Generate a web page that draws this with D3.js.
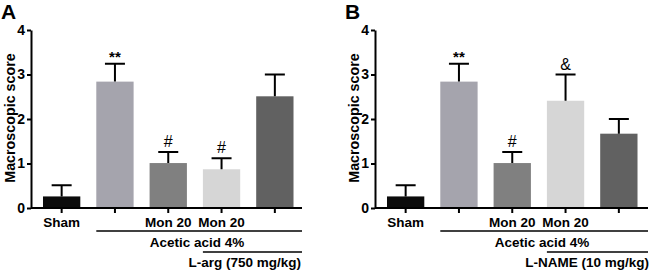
<!DOCTYPE html>
<html>
<head>
    <meta charset="utf-8" />
    <script src="https://d3js.org/d3.v7.min.js"></script>
    <style>
        body { margin: 0; background: #fff; }
        svg text { font-family: Arial, "Liberation Sans", sans-serif; font-weight: bold; }
    </style>
</head>
<body>
<svg id="svg"></svg>
<script>

// data
let groups = ["g1", "g2", "g3", "g4", "g5"];
let groupLabels = ["Sham", "", "Mon 20", "Mon 20", ""];
let barColors = ["#0b0b0b", "#a5a4ad", "#808080", "#d6d6d6", "#616161"];

let meanA = [0.26, 2.84, 1.01, 0.87, 2.51];
let errA = [0.51, 3.24, 1.26, 1.12, 3.0];
let markA = ["", "**", "#", "#", ""];

let meanB = [0.26, 2.84, 1.01, 2.41, 1.67];
let errB = [0.51, 3.24, 1.26, 3.0, 2.0];
let markB = ["", "**", "#", "&", ""];

let yTicks = [0, 1, 2, 3, 4];

let svg = d3.select("#svg").attr("width", 650).attr("height", 272);

function drawPanel(opt) {
    let g = svg.append("g").attr("transform", "translate(" + opt.x0 + ",0)");

    let x = d3.scaleBand().domain(groups)
        .range([31, 305.5]).paddingInner(0.3).paddingOuter(0.225);
    let y = d3.scaleLinear().domain([0, 4]).range([208, 30]);

    // panel letter
    g.append("text").attr("x", 1).attr("y", 19)
        .attr("font-size", 21).text(opt.letter);

    // y title
    g.append("text")
        .attr("transform", "translate(15,118) rotate(-90)")
        .attr("text-anchor", "middle")
        .attr("font-size", 14.3)
        .text("Macroscopic score");

    // bars
    g.selectAll(".bar").data(opt.mean).enter().append("rect")
        .attr("x", (d, i) => x(groups[i]))
        .attr("y", d => y(d))
        .attr("width", x.bandwidth())
        .attr("height", d => y(0) - y(d))
        .attr("fill", (d, i) => barColors[i]);

    // error bars (upper only)
    let cap = 10;
    g.selectAll(".err").data(opt.err).enter().append("path")
        .attr("d", (d, i) => {
            let cx = x(groups[i]) + x.bandwidth() / 2;
            return "M" + cx + "," + y(opt.mean[i]) + "V" + y(d) +
                "M" + (cx - cap) + "," + y(d) + "H" + (cx + cap);
        })
        .attr("stroke", "#000").attr("stroke-width", 2).attr("fill", "none");

    // significance marks
    g.selectAll(".mark").data(opt.marks).enter().append("text")
        .attr("x", (d, i) => x(groups[i]) + x.bandwidth() / 2)
        .attr("y", (d, i) => y(opt.err[i]) - (d === "**" ? 2 : 5))
        .attr("text-anchor", "middle")
        .attr("font-size", d => d === "**" ? 15 : 16)
        .style("font-weight", d => d === "**" ? "bold" : "normal")
        .text(d => d);

    // y axis
    let yAxis = g.append("g").attr("transform", "translate(31,0)")
        .call(d3.axisLeft(y).tickValues(yTicks).tickSize(4).tickSizeOuter(0).tickFormat(d3.format("d")));
    yAxis.selectAll("text").attr("font-size", 14).attr("fill", "#000").attr("x", -6);
    yAxis.selectAll("line").attr("stroke-width", 2);
    yAxis.select(".domain").attr("stroke-width", 2);

    // x axis
    let xAxis = g.append("g").attr("transform", "translate(0,208)")
        .call(d3.axisBottom(x).tickSize(5).tickSizeOuter(0).tickFormat(""));
    xAxis.select(".domain").attr("d", "M31,0H" + opt.xEnd).attr("stroke-width", 2);
    xAxis.selectAll("line").attr("stroke-width", 2);

    // group labels
    g.selectAll(".glab").data(groupLabels).enter().append("text")
        .attr("x", (d, i) => x(groups[i]) + x.bandwidth() / 2)
        .attr("y", 227)
        .attr("text-anchor", "middle")
        .attr("font-size", 13.5)
        .text(d => d);

    // treatment lines
    let x1 = x(groups[1]);
    g.append("line").attr("x1", x1).attr("x2", opt.xEnd)
        .attr("y1", 231).attr("y2", 231).attr("stroke", "#000").attr("stroke-width", 1.5);
    g.append("text").attr("x", opt.acidX).attr("y", 246.5)
        .attr("text-anchor", "middle").attr("font-size", 13.5).text("Acetic acid 4%");

    let x3 = x(groups[3]);
    g.append("line").attr("x1", x3).attr("x2", opt.xEnd)
        .attr("y1", 252).attr("y2", 252).attr("stroke", "#000").attr("stroke-width", 1.5);
    g.append("text").attr("x", opt.drugX).attr("y", 267)
        .attr("text-anchor", "end").attr("font-size", 13.5).text(opt.drug);
}

drawPanel({ x0: 0, letter: "A", mean: meanA, err: errA, marks: markA,
    xEnd: 302, acidX: 197, drugX: 301, drug: "L-arg (750 mg/kg)" });
drawPanel({ x0: 344, letter: "B", mean: meanB, err: errB, marks: markB,
    xEnd: 304, acidX: 198, drugX: 305, drug: "L-NAME (10 mg/kg)" });

</script>
</body>
</html>
